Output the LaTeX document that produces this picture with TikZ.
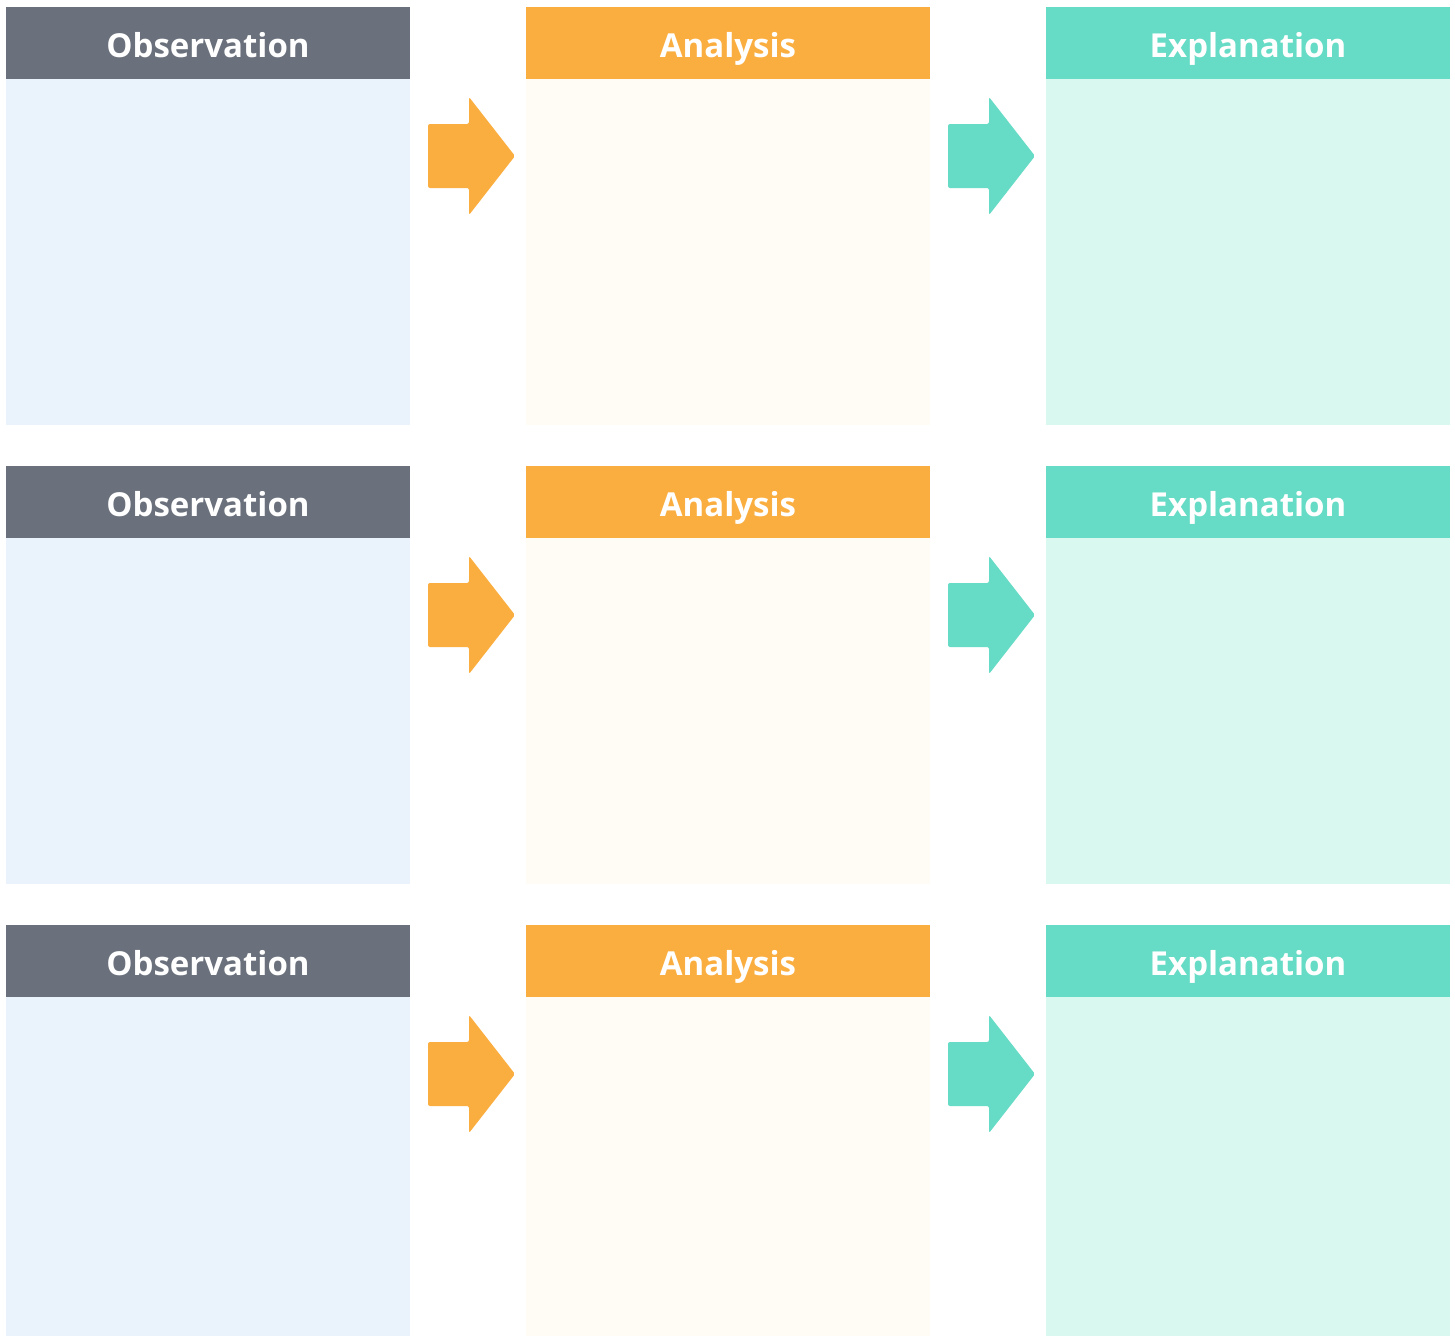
\documentclass[tikz,border=0pt]{standalone}
\usepackage{fontspec}
\setmainfont{Open Sans}
\definecolor{hgray}{HTML}{6A717C}
\definecolor{horange}{HTML}{FBAE40}
\definecolor{hteal}{HTML}{66DBC5}
\definecolor{bblue}{HTML}{EAF2FC}
\definecolor{bcream}{HTML}{FFFBF5}
\definecolor{bmint}{HTML}{D9F8F0}
\begin{document}
\begin{tikzpicture}[x=1pt,y=-1pt,
  head/.style={text=white,font=\fontsize{33}{38}\selectfont\bfseries,inner sep=0pt,anchor=base},
  arrowshape/.style={rounded corners=2pt}]
\useasboundingbox[fill=white] (0,0) rectangle (1455,1336);
\foreach \r/\top/\bot in {1/7/425,2/466/884,3/925/1336}{
  \foreach \c/\x/\hc/\bc/\txt in {1/6/hgray/bblue/Observation,2/526/horange/bcream/Analysis,3/1046/hteal/bmint/Explanation}{
    \fill[\bc] (\x,\top+72) rectangle (\x+404,\bot);
    \fill[\hc] (\x,\top) rectangle (\x+404,\top+72);
    \node[head] (h\r\c) at (\x+202,\top+50) {\txt};
  }
  \foreach \ax/\ac in {428/horange,948/hteal}{
    \fill[\ac,arrowshape] (\ax,\top+117) -- (\ax+41,\top+117) -- (\ax+41,\top+90) -- (\ax+87,\top+149) -- (\ax+41,\top+208) -- (\ax+41,\top+181) -- (\ax,\top+181) -- cycle;
  }
}
\end{tikzpicture}
\end{document}
